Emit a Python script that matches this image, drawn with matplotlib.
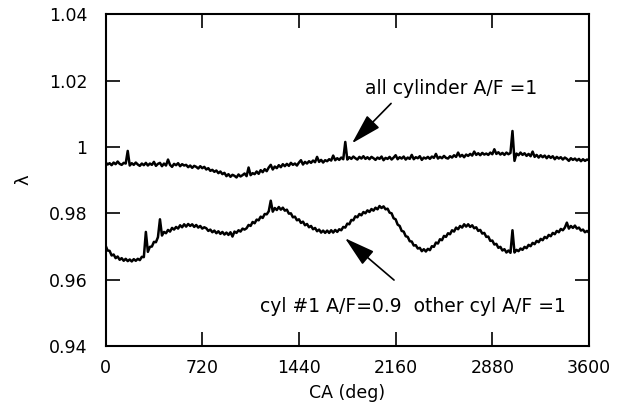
import numpy as np
import matplotlib
matplotlib.use("Agg")
import matplotlib.pyplot as plt

plt.rcParams['font.family'] = ['DejaVu Sans']

# crank angle samples (deg), every 15 deg
ca = np.linspace(0, 3600, 241)

# all cylinders A/F = 1
lam_all = [
    0.9954, 0.9947, 0.9951, 0.9945, 0.9953, 0.9948, 0.9956, 0.9949, 0.9946, 0.9952,
    0.9950, 0.9988, 0.9944, 0.9951, 0.9946, 0.9953, 0.9947, 0.9943, 0.9950, 0.9945,
    0.9952, 0.9944, 0.9950, 0.9946, 0.9955, 0.9943, 0.9949, 0.9952, 0.9942, 0.9950,
    0.9944, 0.9962, 0.9946, 0.9940, 0.9949, 0.9945, 0.9951, 0.9942, 0.9948, 0.9944,
    0.9946, 0.9939, 0.9944, 0.9937, 0.9943, 0.9940, 0.9935, 0.9942, 0.9936, 0.9940,
    0.9932, 0.9936, 0.9928, 0.9931, 0.9925, 0.9929, 0.9921, 0.9926, 0.9918, 0.9922,
    0.9912, 0.9918, 0.9910, 0.9916, 0.9913, 0.9908, 0.9917, 0.9911, 0.9915, 0.9920,
    0.9912, 0.9938, 0.9915, 0.9921, 0.9918, 0.9926, 0.9919, 0.9930, 0.9924, 0.9933,
    0.9927, 0.9938, 0.9946, 0.9932, 0.9941, 0.9936, 0.9945, 0.9939, 0.9948, 0.9942,
    0.9949, 0.9943, 0.9952, 0.9946, 0.9950, 0.9944, 0.9953, 0.9960, 0.9947, 0.9955,
    0.9950, 0.9957, 0.9952, 0.9959, 0.9954, 0.9970, 0.9955, 0.9961, 0.9953, 0.9960,
    0.9957, 0.9963, 0.9959, 0.9974, 0.9960, 0.9966, 0.9961, 0.9968, 0.9963, 1.0015,
    0.9962, 0.9969, 0.9964, 0.9971, 0.9966, 0.9962, 0.9970, 0.9965, 0.9972, 0.9964,
    0.9969, 0.9963, 0.9970, 0.9966, 0.9961, 0.9968, 0.9964, 0.9971, 0.9960, 0.9967,
    0.9964, 0.9970, 0.9962, 0.9968, 0.9975, 0.9963, 0.9969, 0.9965, 0.9971, 0.9962,
    0.9968, 0.9964, 0.9976, 0.9963, 0.9969, 0.9966, 0.9972, 0.9961, 0.9968, 0.9965,
    0.9970, 0.9964, 0.9971, 0.9967, 0.9979, 0.9965, 0.9970, 0.9966, 0.9973, 0.9967,
    0.9965, 0.9972, 0.9968, 0.9975, 0.9970, 0.9983, 0.9971, 0.9976, 0.9969, 0.9977,
    0.9973, 0.9979, 0.9974, 0.9986, 0.9976, 0.9981, 0.9975, 0.9982, 0.9977, 0.9980,
    0.9976, 0.9983, 0.9978, 0.9993, 0.9979, 0.9984, 0.9977, 0.9982, 0.9976, 0.9983,
    0.9978, 0.9982, 1.0048, 0.9958, 0.9980, 0.9975, 0.9983, 0.9976, 0.9981, 0.9973,
    0.9979, 0.9972, 0.9986, 0.9970, 0.9976, 0.9968, 0.9975, 0.9969, 0.9974, 0.9966,
    0.9973, 0.9967, 0.9972, 0.9963, 0.9970, 0.9965, 0.9969, 0.9962, 0.9968, 0.9964,
    0.9958, 0.9966, 0.9961, 0.9965, 0.9959, 0.9964, 0.9957, 0.9963, 0.9958, 0.9962,
    0.9960,
]

# cyl #1 A/F = 0.9, other cylinders A/F = 1
lam_cyl1 = [
    0.9703, 0.9688, 0.9687, 0.9673, 0.9676, 0.9665, 0.9670, 0.9660, 0.9665, 0.9657,
    0.9663, 0.9656, 0.9661, 0.9655, 0.9662, 0.9657, 0.9663, 0.9659, 0.9669, 0.9668,
    0.9744, 0.9684, 0.9699, 0.9700, 0.9714, 0.9713, 0.9728, 0.9782, 0.9733, 0.9744,
    0.9740, 0.9750, 0.9745, 0.9756, 0.9751, 0.9759, 0.9754, 0.9764, 0.9758, 0.9767,
    0.9760, 0.9768, 0.9762, 0.9767, 0.9759, 0.9765, 0.9757, 0.9762, 0.9754, 0.9758,
    0.9755, 0.9747, 0.9751, 0.9743, 0.9748, 0.9740, 0.9746, 0.9738, 0.9744, 0.9736,
    0.9742, 0.9735, 0.9743, 0.9730, 0.9745, 0.9741, 0.9749, 0.9745, 0.9754, 0.9751,
    0.9755, 0.9765, 0.9762, 0.9774, 0.9770, 0.9781, 0.9779, 0.9790, 0.9786, 0.9798,
    0.9797, 0.9806, 0.9838, 0.9805, 0.9816, 0.9810, 0.9819, 0.9811, 0.9817, 0.9808,
    0.9811, 0.9799, 0.9800, 0.9788, 0.9790, 0.9779, 0.9782, 0.9771, 0.9775, 0.9764,
    0.9768, 0.9758, 0.9762, 0.9752, 0.9756, 0.9746, 0.9751, 0.9742, 0.9748, 0.9741,
    0.9748, 0.9741, 0.9749, 0.9742, 0.9750, 0.9744, 0.9752, 0.9749, 0.9759, 0.9757,
    0.9769, 0.9767, 0.9780, 0.9779, 0.9791, 0.9788, 0.9798, 0.9794, 0.9804, 0.9800,
    0.9809, 0.9804, 0.9813, 0.9808, 0.9817, 0.9812, 0.9822, 0.9816, 0.9821, 0.9812,
    0.9814, 0.9802, 0.9800, 0.9785, 0.9782, 0.9766, 0.9762, 0.9747, 0.9745, 0.9731,
    0.9729, 0.9716, 0.9715, 0.9703, 0.9704, 0.9694, 0.9696, 0.9686, 0.9692, 0.9685,
    0.9693, 0.9689, 0.9701, 0.9699, 0.9712, 0.9709, 0.9722, 0.9719, 0.9732, 0.9729,
    0.9740, 0.9737, 0.9749, 0.9745, 0.9757, 0.9752, 0.9762, 0.9757, 0.9767, 0.9760,
    0.9767, 0.9759, 0.9764, 0.9755, 0.9758, 0.9747, 0.9750, 0.9739, 0.9741, 0.9729,
    0.9730, 0.9717, 0.9718, 0.9706, 0.9708, 0.9696, 0.9699, 0.9688, 0.9692, 0.9682,
    0.9688, 0.9681, 0.9749, 0.9682, 0.9690, 0.9686, 0.9694, 0.9690, 0.9699, 0.9695,
    0.9705, 0.9701, 0.9711, 0.9707, 0.9717, 0.9713, 0.9723, 0.9719, 0.9729, 0.9725,
    0.9735, 0.9731, 0.9741, 0.9737, 0.9747, 0.9743, 0.9753, 0.9749, 0.9757, 0.9772,
    0.9754, 0.9762, 0.9756, 0.9763, 0.9754, 0.9757, 0.9748, 0.9751, 0.9743, 0.9747,
    0.9742,
]

xticks = [0, 720, 1440, 2160, 2880, 3600]
yticks = [0.94, 0.96, 0.98, 1.00, 1.02, 1.04]
ytick_labels = ["0.94", "0.96", "0.98", "1", "1.02", "1.04"]

fig = plt.figure(figsize=(6.21, 4.16), dpi=100)
ax = fig.add_axes([0.170, 0.168, 0.7785, 0.798])

ax.plot(ca, lam_all, color='black', lw=1.8)
ax.plot(ca, lam_cyl1, color='black', lw=1.8)

ax.set_xlim(0, 3600)
ax.set_ylim(0.94, 1.04)
ax.set_xticks(xticks)
ax.set_yticks(yticks)
ax.set_yticklabels(ytick_labels)
ax.tick_params(direction='in', length=10, width=1.2, top=True, right=True,
               labelsize=12.5)
ax.tick_params(axis='x', pad=9)
ax.tick_params(axis='y', pad=13)
for s in ax.spines.values():
    s.set_linewidth(1.5)

ax.set_xlabel("CA (deg)", fontsize=12.5, labelpad=5)
ax.set_ylabel("λ", fontsize=13, labelpad=12)

arrow = dict(arrowstyle='-|>,head_length=0.95,head_width=0.27', color='black',
             lw=1.2, mutation_scale=20, shrinkA=0, shrinkB=0)
ax.annotate("", xy=(1835, 1.0011), xytext=(2126, 1.0131), arrowprops=arrow)
ax.annotate("", xy=(1783, 0.9725), xytext=(2148, 0.9599), arrowprops=arrow)
ax.text(2573, 1.0177, "all cylinder A/F =1", fontsize=13.5, ha='center', va='center')
ax.text(2290, 0.9518, "cyl #1 A/F=0.9  other cyl A/F =1", fontsize=13.5,
        ha='center', va='center')

fig.savefig("out.png", dpi=100)
